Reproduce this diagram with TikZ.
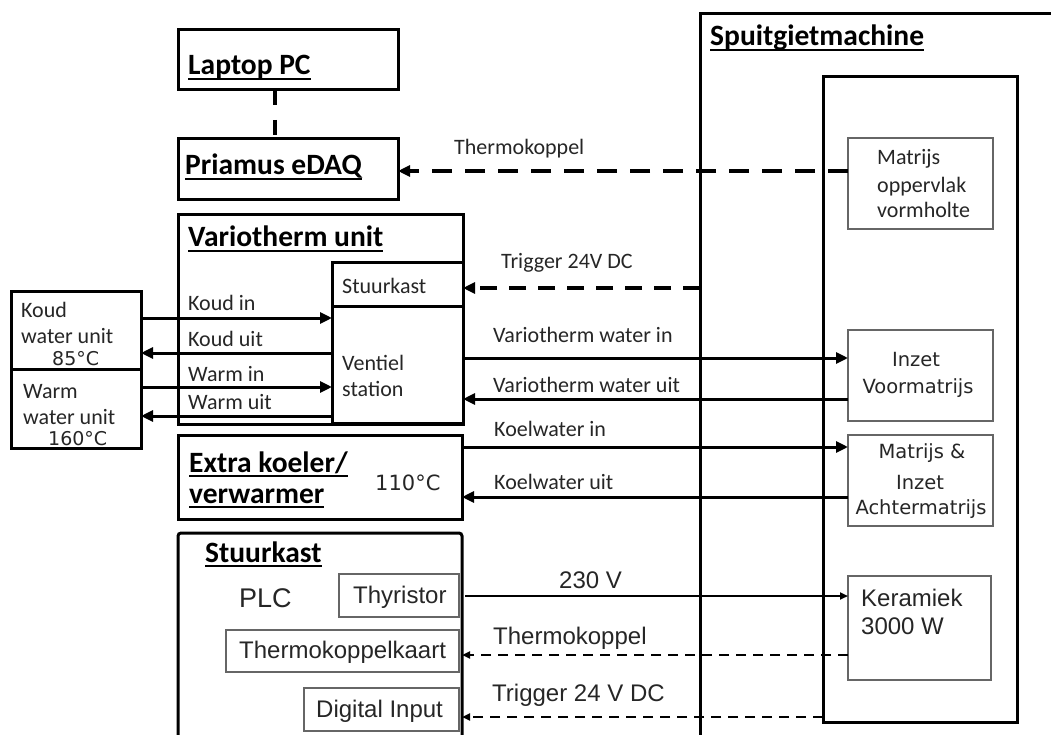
\documentclass[tikz,border=0pt]{standalone}
\usepackage{fontspec}
\setmainfont{Carlito}
\newfontfamily\arialf{Liberation Sans}
\newfontfamily\dvf{DejaVu Sans}
\usetikzlibrary{arrows.meta}
\newcommand\myul[1]{\setbox0=\hbox{#1}\rlap{\rule[-5pt]{\wd0}{2pt}}\box0}
\begin{document}
\begin{tikzpicture}[x=1pt,y=-1pt,
  box/.style={draw, line width=3pt, inner sep=0pt, outer sep=0pt, anchor=north west, rectangle},
  sub/.style={draw=black!60, line width=1.3pt, inner sep=0pt, outer sep=0pt, anchor=north west, rectangle},
  ttl/.style={anchor=base west, inner sep=0pt, font=\fontsize{29.5}{32}\selectfont\bfseries},
  lbl/.style={anchor=base west, inner sep=0pt, text=black!85, font=\fontsize{22}{26}\selectfont},
  dv/.style={anchor=base, inner sep=0pt, text=black!85, font=\dvf\fontsize{19.5}{22}\selectfont},
  ar/.style={anchor=base west, inner sep=0pt, text=black!85, font=\arialf\fontsize{24}{28}\selectfont},
  flow/.style={line width=3pt, -{Triangle[length=12pt,width=11pt]}},
  sig/.style={line width=3.5pt, dash pattern=on 20pt off 13pt, -{Triangle[length=12pt,width=11pt]}},
  sigb/.style={line width=3.5pt, dash pattern=on 17pt off 12pt, -{Triangle[length=12pt,width=11pt]}},
  lapdash/.style={line width=3.5pt, dash pattern=on 15pt off 15pt},
  thinarr/.style={line width=2pt, -{Triangle[length=8pt,width=7pt]}},
  thindash/.style={line width=2pt, dash pattern=on 10pt off 7pt, -{Triangle[length=8pt,width=7pt]}}
]
\useasboundingbox (0,0) rectangle (1051,735);
\fill[white] (0,0) rectangle (1051,735);
\begin{scope}
\clip (0,0) rectangle (1051,735);
% boxes
\node[box, minimum width=220pt, minimum height=60pt] (laptop) at (178,30) {};
\node[box, minimum width=220pt, minimum height=61pt] (priamus) at (178,139) {};
\node[box, minimum width=285pt, minimum height=209pt] (vario) at (178,215) {};
\node[box, minimum width=131pt, minimum height=44pt] (sk1) at (332,262) {};
\node[box, minimum width=131pt, minimum height=117pt] (ventiel) at (332,306) {};
\node[box, minimum width=130pt, minimum height=78pt] (koud) at (11,291) {};
\node[box, minimum width=130pt, minimum height=79pt] (warm) at (11,369) {};
\node[box, minimum width=284pt, minimum height=84pt] (extra) at (178,435) {};
\node[box, rounded corners=3pt, minimum width=284pt, minimum height=260pt] (stuurkastB) at (178,533) {};
\node[box, minimum width=500pt, minimum height=800pt] (machine) at (700,14) {};
\node[box, minimum width=194pt, minimum height=645pt] (mould) at (823,77) {};
\node[sub, minimum width=145pt, minimum height=91pt] (matrijs) at (848,138) {};
\node[sub, minimum width=145pt, minimum height=91pt] (inzet) at (848,330) {};
\node[sub, minimum width=145pt, minimum height=91pt] (achter) at (848,435) {};
\node[sub, minimum width=143pt, minimum height=104pt] (keramiek) at (848,576) {};
\node[sub, minimum width=120pt, minimum height=43pt] (thyristor) at (339,574) {};
\node[sub, minimum width=233pt, minimum height=42pt] (tkaart) at (226,630) {};
\node[sub, minimum width=155pt, minimum height=43pt] (digital) at (304,688) {};
% titles
\node[ttl] (tLaptop) at (188,75) {\myul{Laptop PC}};
\node[ttl] (tPriamus) at (185,175) {\myul{Priamus eDAQ}};
\node[ttl] (tVario) at (188,247) {\myul{Variotherm unit}};
\node[ttl] (tMachine) at (710,46) {\myul{Spuitgietmachine}};
\node[ttl] (tExtraA) at (189,472) {\myul{Extra koeler/}};
\node[ttl] (tExtraB) at (189,503) {\myul{verwarmer}};
\node[ttl] (tStuur) at (205,562) {\myul{Stuurkast}};
% labels
\node[lbl] (lThermoA) at (454,155) {Thermokoppel};
\node[lbl] (lTrigA) at (501,268) {Trigger 24V DC};
\node[lbl] (lVin) at (493,342) {Variotherm water in};
\node[lbl] (lVuit) at (493,392) {Variotherm water uit};
\node[lbl] (lKin) at (494,436) {Koelwater in};
\node[lbl] (lKuit) at (494,489) {Koelwater uit};
\node[lbl] (lKoudIn) at (188,310) {Koud in};
\node[lbl] (lKoudUit) at (188,346) {Koud uit};
\node[lbl] (lWarmIn) at (188,381) {Warm in};
\node[lbl] (lWarmUit) at (188,409) {Warm uit};
\node[lbl] (lSk) at (342,293) {Stuurkast};
\node[lbl] (lVent) at (342,370) {Ventiel};
\node[lbl] (lStat) at (342,396) {station};
\node[lbl] (lKoud) at (21,317) {Koud};
\node[lbl] (lKoudW) at (21,343) {water unit};
\node[lbl] (lWarm) at (23,398) {Warm};
\node[lbl] (lWarmW) at (23,424) {water unit};
\node[dv, anchor=base west, font=\dvf\fontsize{19}{22}\selectfont] (t85) at (52,365) {85°C};
\node[dv, anchor=base west, font=\dvf\fontsize{19}{22}\selectfont] (t160) at (48,445) {160°C};
\node[dv, anchor=base west, font=\dvf\fontsize{21}{24}\selectfont] (t110) at (375,490) {110°C};
\node[lbl] (lMatA) at (877,165) {Matrijs};
\node[lbl] (lMatB) at (877,193) {oppervlak};
\node[lbl] (lMatC) at (877,218) {vormholte};
\node[dv] (lInzA) at (916,366) {Inzet};
\node[dv] (lInzB) at (918,393) {Voormatrijs};
\node[dv] (lAchA) at (922,458) {Matrijs \&};
\node[dv] (lAchB) at (920,489) {Inzet};
\node[dv] (lAchC) at (921,514) {Achtermatrijs};
\node[ar, font=\arialf\fontsize{27}{30}\selectfont] (lPLC) at (239,607) {PLC};
\node[ar] (lThy) at (353,603) {Thyristor};
\node[ar] (lTk) at (239,658) {Thermokoppelkaart};
\node[ar] (lDig) at (316,717) {Digital Input};
\node[ar] (l230) at (559,588) {230 V};
\node[ar] (lThermoB) at (493,644) {Thermokoppel};
\node[ar] (lTrigB) at (492,701) {Trigger 24 V DC};
\node[ar] (lKer) at (861,606) {Keramiek};
\node[ar] (lKerW) at (861,634) {3000 W};
% connectors
\draw[lapdash] (laptop.south -| 275,0) -- (priamus.north -| 275,0);
\draw[sig] (matrijs.west |- 0,171) -- (priamus.east |- 0,171);
\draw[sigb] (machine.west |- 0,288) -- (sk1.east |- 0,288);
\draw[flow] (ventiel.east |- 0,358) -- (inzet.west |- 0,358);
\draw[flow] (inzet.west |- 0,399) -- (ventiel.east |- 0,399);
\draw[flow] (extra.east |- 0,447) -- (achter.west |- 0,447);
\draw[flow] (achter.west |- 0,497) -- (extra.east |- 0,497);
\draw[flow] (koud.east |- 0,318) -- (ventiel.west |- 0,318);
\draw[flow] (ventiel.west |- 0,353) -- (koud.east |- 0,353);
\draw[flow] (warm.east |- 0,387) -- (ventiel.west |- 0,387);
\draw[flow] (ventiel.west |- 0,416) -- (warm.east |- 0,416);
\draw[thinarr] ([xshift=3pt]stuurkastB.east |- 0,596) -- (keramiek.west |- 0,596);
\draw[thindash] (keramiek.west |- 0,655) -- (stuurkastB.east |- 0,655);
\draw[thindash] (mould.west |- 0,717) -- (stuurkastB.east |- 0,717);
\end{scope}
\end{tikzpicture}
\end{document}
